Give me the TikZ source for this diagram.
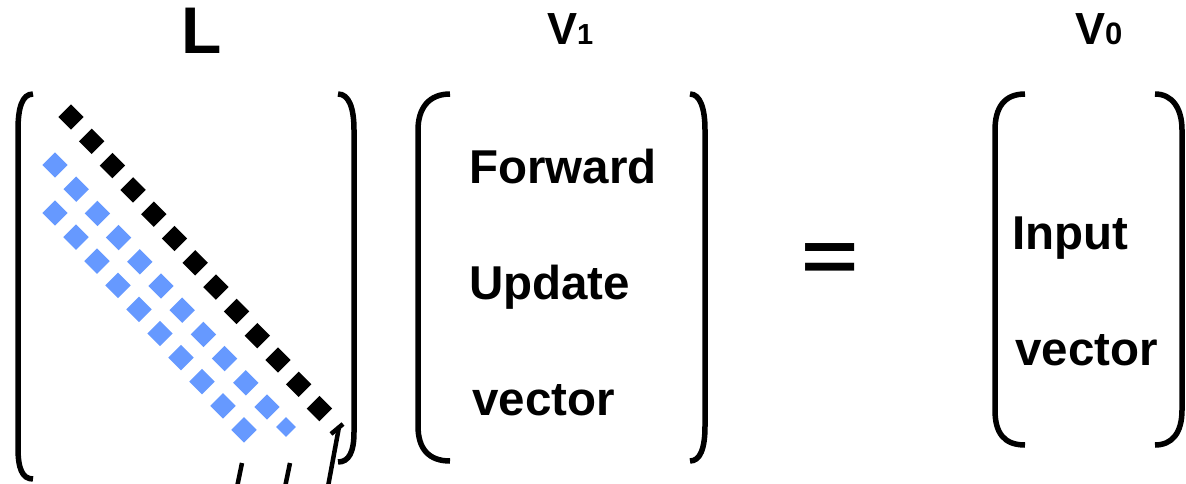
\documentclass[tikz,border=0pt]{standalone}
\usepackage{fontspec}
\setmainfont{Liberation Sans}
\definecolor{dotblue}{RGB}{102,153,255}

\tikzset{
  brk/.style={line width=5.5pt},
  ptr/.style={line width=4.5pt},
  dotbox/.style={rectangle, rotate=45, inner sep=0pt, minimum size=18pt},
  txt/.style={anchor=base west, inner sep=0pt, font=\bfseries\fontsize{47.5}{47.5}\selectfont},
}

\begin{document}
\begin{tikzpicture}[x=1pt, y=-1pt]
    \useasboundingbox (0,0) rectangle (1186,484);

    % titles
    \node[txt, font=\bfseries\fontsize{66}{66}\selectfont] (L)  at (181,54) {L};
    \node[txt, font=\bfseries\fontsize{45}{45}\selectfont] (V1) at (547,45) {V{\fontsize{29}{29}\selectfont 1}};
    \node[txt, font=\bfseries\fontsize{45}{45}\selectfont] (V0) at (1075,45) {V{\fontsize{31}{31}\selectfont 0}};

    % matrix L
    \draw[brk] (33,94) .. controls (22,94) and (18,108) .. (18,130) -- (18,448) .. controls (18,468) and (22,479) .. (33,479);
    \draw[brk] (338,94) .. controls (349,94) and (354,108) .. (354,130) -- (354,432) .. controls (354,452) and (349,462) .. (338,462);

    \foreach \i in {0,...,12}
      \node[dotbox, fill=black] (d\i) at ({71+20.7*\i},{117+24.3*\i}) {};
    \foreach \i in {0,...,10}
      \node[dotbox, fill=dotblue] (s\i) at ({55+21.2*\i},{165+24.2*\i}) {};
    \node[dotbox, fill=dotblue, minimum size=14pt] (s11) at (286,427) {};
    \foreach \i in {0,...,9}
      \node[dotbox, fill=dotblue] (t\i) at ({55+21.0*\i},{213+24.1*\i}) {};

    % pointers from below
    \coordinate (p1top) at (242,463);
    \coordinate (p1bot) at (236,492);
    \coordinate (p2top) at (290,463);
    \coordinate (p2bot) at (284,492);
    \coordinate (p3top) at (339,427);
    \coordinate (p3bot) at (327,492);
    \coordinate (p3barb) at (331,434);
    \coordinate (p3tip) at (343,424);
    \draw[ptr] (p1bot) -- (p1top);
    \draw[ptr] (p2bot) -- (p2top);
    \draw[ptr] (p3bot) -- (p3top);
    \draw[ptr] (p3barb) -- (p3tip);

    % vector V1
    \draw[brk] (450,94) .. controls (429,94) and (418,108) .. (418,130) -- (418,426) .. controls (418,449) and (429,461) .. (450,461);
    \draw[brk] (690,94) .. controls (700,94) and (705,108) .. (705,130) -- (705,426) .. controls (705,449) and (700,461) .. (690,461);
    \node[txt] (fwd) at (469,183) {Forward};
    \node[txt] (upd) at (469,299) {Update};
    \node[txt] (vec1) at (472,415) {vector};

    % equals
    \node[inner sep=0pt, font=\bfseries\fontsize{73}{73}\selectfont] (eq) at (830,263) {\scalebox{1.34}[1]{=}};

    % vector V0
    \draw[brk] (1025,94) .. controls (1004,94) and (995,108) .. (995,130) -- (995,410) .. controls (995,433) and (1004,445) .. (1025,445);
    \draw[brk] (1155,94) .. controls (1172,94) and (1182,108) .. (1182,130) -- (1182,410) .. controls (1182,433) and (1172,445) .. (1155,445);
    \node[txt] (inp) at (1012,249) {Input};
    \node[txt] (vec0) at (1015,365) {vector};

  \end{tikzpicture}
\end{document}
